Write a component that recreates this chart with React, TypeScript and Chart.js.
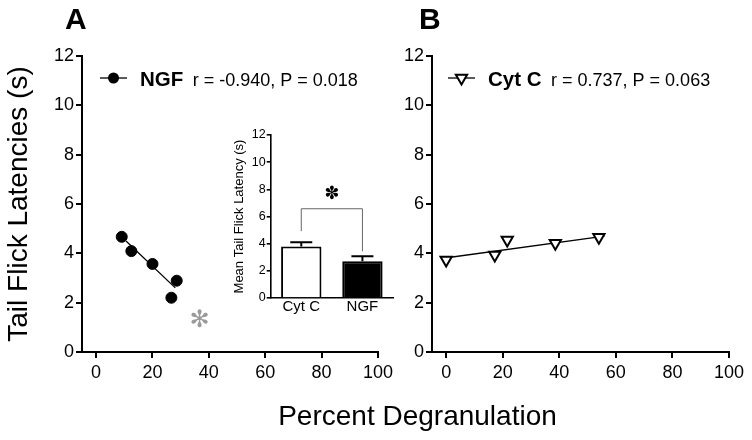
import React, { useEffect, useRef } from "react";
import { Chart, registerables } from "chart.js";

Chart.register(...registerables);

const FONT = "'Liberation Sans', Arial, Helvetica, sans-serif";

// ---- tick labels ----
const xTicks = [0, 20, 40, 60, 80, 100];
const yTicks = [0, 2, 4, 6, 8, 10, 12];
const insetYTicks = [0, 2, 4, 6, 8, 10, 12];

// ---- Panel A: NGF ----
const ngfLabel = "NGF";
const ngfX = [9.1, 12.5, 20.0, 28.6, 26.7];
const ngfY = [4.67, 4.09, 3.57, 2.89, 2.2];
const ngfFitX = [10.6, 28.1];
const ngfFitY = [4.5, 2.6];
const ngfStats = "r = -0.940, P = 0.018";
const sigMarkX = [36.7];
const sigMarkY = [1.28];

// ---- Panel B: Cyt C ----
const cytLabel = "Cyt C";
const cytX = [0, 17.2, 21.6, 38.6, 54.0];
const cytY = [3.73, 3.93, 4.54, 4.41, 4.65];
const cytFitX = [-1, 56];
const cytFitY = [3.8, 4.7];
const cytStats = "r = 0.737, P = 0.063";

// ---- Inset bar chart ----
const insetCats = ["Cyt C", "NGF"];
const insetMeans = [3.8, 2.7];
const insetSem = [0.3, 0.37];
const bracketTop = [6.57];
const bracketLegs = [4.92, 3.44];
const starY = [7.6];

const STAR_HEAVY = "\u273D";
const STAR_LIGHT = "\u273B";

function drawMarker(ctx: CanvasRenderingContext2D, style: string, x: number, y: number, r: number) {
  ctx.save();
  ctx.beginPath();
  if (style === "circle") {
    ctx.arc(x, y, r, 0, Math.PI * 2);
    ctx.fillStyle = "#000";
    ctx.fill();
  } else {
    const s = Math.sin(Math.PI / 3) * r;
    ctx.moveTo(x - s, y - r / 2);
    ctx.lineTo(x + s, y - r / 2);
    ctx.lineTo(x, y + r);
    ctx.closePath();
    ctx.fillStyle = "#fff";
    ctx.fill();
    ctx.lineWidth = 2;
    ctx.strokeStyle = "#000";
    ctx.stroke();
  }
  ctx.restore();
}

function legendPlugin(opts: { dx: number; dy: number; marker: string; r: number; stats: string }) {
  return {
    id: "statLegend",
    afterDatasetsDraw(chart: any) {
      const { ctx, chartArea } = chart;
      const y = chartArea.top + opts.dy;
      const x0 = chartArea.left + opts.dx;
      ctx.save();
      ctx.strokeStyle = "#000";
      ctx.lineWidth = 1.3;
      ctx.beginPath();
      ctx.moveTo(x0, y);
      ctx.lineTo(x0 + 27, y);
      ctx.stroke();
      drawMarker(ctx, opts.marker, x0 + 13.5, y, opts.r);
      ctx.fillStyle = "#000";
      ctx.textAlign = "left";
      ctx.textBaseline = "alphabetic";
      const label = chart.data.datasets[0].label;
      ctx.font = `bold 20.5px ${FONT}`;
      const lx = x0 + 40;
      ctx.fillText(label, lx, y + 7.5);
      const w = ctx.measureText(label).width;
      ctx.font = `18px ${FONT}`;
      ctx.fillText(opts.stats, lx + w + 9.5, y + 7.5);
      ctx.restore();
    },
  };
}

const sigPlugin = {
  id: "sigMark",
  afterDatasetsDraw(chart: any) {
    const { ctx, scales } = chart;
    ctx.save();
    ctx.fillStyle = "#9a9a9a";
    ctx.font = `bold 24px 'DejaVu Sans', sans-serif`;
    ctx.textAlign = "center";
    ctx.textBaseline = "middle";
    sigMarkX.forEach((v, i) => {
      ctx.fillText(STAR_LIGHT, scales.x.getPixelForValue(v), scales.y.getPixelForValue(sigMarkY[i]));
    });
    ctx.restore();
  },
};

const insetPlugin = {
  id: "insetExtras",
  afterDatasetsDraw(chart: any) {
    const { ctx, scales } = chart;
    const xs = scales.x;
    const ys = scales.y;
    ctx.save();
    // error bars (upper only)
    ctx.strokeStyle = "#000";
    ctx.lineWidth = 2;
    insetMeans.forEach((m, i) => {
      const cx = xs.getPixelForValue(i);
      const y0 = ys.getPixelForValue(m);
      const y1 = ys.getPixelForValue(m + insetSem[i]);
      ctx.beginPath();
      ctx.moveTo(cx, y0);
      ctx.lineTo(cx, y1);
      ctx.moveTo(cx - 11, y1);
      ctx.lineTo(cx + 11, y1);
      ctx.stroke();
    });
    // bracket
    const xa = xs.getPixelForValue(0);
    const xb = xs.getPixelForValue(1);
    const yt = ys.getPixelForValue(bracketTop[0]);
    ctx.strokeStyle = "#666";
    ctx.lineWidth = 1;
    ctx.beginPath();
    ctx.moveTo(xa, ys.getPixelForValue(bracketLegs[0]));
    ctx.lineTo(xa, yt);
    ctx.lineTo(xb, yt);
    ctx.lineTo(xb, ys.getPixelForValue(bracketLegs[1]));
    ctx.stroke();
    // star
    ctx.fillStyle = "#000";
    ctx.font = `18px 'DejaVu Sans', sans-serif`;
    ctx.textAlign = "center";
    ctx.textBaseline = "middle";
    ctx.fillText(STAR_HEAVY, (xa + xb) / 2, ys.getPixelForValue(starY[0]));
    ctx.restore();
  },
};

function axisCommon(fontSize: number, tickLen: number, pad: number) {
  return {
    grid: { drawOnChartArea: false, tickLength: tickLen, lineWidth: 2, color: "#000", tickColor: "#000" },
    border: { color: "#000", width: 2 },
    ticks: { color: "#000", font: { size: fontSize, family: FONT }, padding: pad, maxRotation: 0, autoSkip: false },
  };
}

function scatterConfig(opts: {
  label: string;
  xs: number[];
  ys: number[];
  fitX: number[];
  fitY: number[];
  pointStyle: string;
  rotation: number;
  radius: number;
  bg: string;
  borderW: number;
  yAxisWidth: number;
  padRight: number;
  yTitle: string | null;
  plugins: any[];
}) {
  return {
    type: "scatter",
    data: {
      datasets: [
        {
          label: opts.label,
          data: opts.xs.map((x, i) => ({ x, y: opts.ys[i] })),
          pointStyle: opts.pointStyle,
          rotation: opts.rotation,
          pointRadius: opts.radius,
          pointBackgroundColor: opts.bg,
          pointBorderColor: "#000",
          pointBorderWidth: opts.borderW,
          showLine: false,
          order: 0,
        },
        {
          label: "fit",
          data: opts.fitX.map((x, i) => ({ x, y: opts.fitY[i] })),
          showLine: true,
          pointRadius: 0,
          borderColor: "#000",
          borderWidth: 1.3,
          order: 1,
        },
      ],
    },
    options: {
      animation: false,
      responsive: false,
      events: [],
      layout: { padding: { left: 0, top: 56, right: opts.padRight, bottom: 48 } },
      plugins: { legend: { display: false }, tooltip: { enabled: false } },
      scales: {
        x: {
          type: "linear",
          min: -5,
          max: 100,
          afterBuildTicks: (s: any) => {
            s.ticks = xTicks.map((v) => ({ value: v }));
          },
          afterFit: (s: any) => {
            s.height = 40;
          },
          ...axisCommon(18, 6, 4),
        },
        y: {
          type: "linear",
          min: 0,
          max: 12,
          afterBuildTicks: (s: any) => {
            s.ticks = yTicks.map((v) => ({ value: v }));
          },
          afterFit: (s: any) => {
            s.width = opts.yAxisWidth;
          },
          title: opts.yTitle
            ? {
                display: true,
                text: opts.yTitle,
                color: "#000",
                font: { size: 28, family: FONT, lineHeight: 1.2 },
                padding: { top: 2, bottom: 0 },
              }
            : { display: false },
          ...axisCommon(18, 6, 2),
        },
      },
    },
    plugins: opts.plugins,
  };
}

export default function App() {
  const aRef = useRef<HTMLCanvasElement>(null);
  const bRef = useRef<HTMLCanvasElement>(null);
  const iRef = useRef<HTMLCanvasElement>(null);

  useEffect(() => {
    Chart.defaults.font.family = FONT;
    Chart.defaults.color = "#000";

    const chartA = new Chart(
      aRef.current as HTMLCanvasElement,
      scatterConfig({
        label: ngfLabel,
        xs: ngfX,
        ys: ngfY,
        fitX: ngfFitX,
        fitY: ngfFitY,
        pointStyle: "circle",
        rotation: 0,
        radius: 5.5,
        bg: "#000",
        borderW: 1,
        yAxisWidth: 82,
        padRight: 22,
        yTitle: "Tail Flick Latencies (s)",
        plugins: [legendPlugin({ dx: 18, dy: 22, marker: "circle", r: 5.5, stats: ngfStats }), sigPlugin],
      }) as any
    );

    const chartB = new Chart(
      bRef.current as HTMLCanvasElement,
      scatterConfig({
        label: cytLabel,
        xs: cytX,
        ys: cytY,
        fitX: cytFitX,
        fitY: cytFitY,
        pointStyle: "triangle",
        rotation: 180,
        radius: 6.5,
        bg: "#fff",
        borderW: 2,
        yAxisWidth: 32,
        padRight: 23,
        yTitle: null,
        plugins: [legendPlugin({ dx: 16, dy: 22, marker: "triangle", r: 6.5, stats: cytStats })],
      }) as any
    );

    const chartI = new Chart(iRef.current as HTMLCanvasElement, {
      type: "bar",
      data: {
        labels: insetCats,
        datasets: [
          {
            data: insetMeans,
            backgroundColor: ["#fff", "#000"],
            borderColor: "#000",
            borderWidth: 2,
            barPercentage: 0.66,
            categoryPercentage: 1,
          },
        ],
      },
      options: {
        animation: false,
        responsive: false,
        events: [],
        layout: { padding: { left: 0, top: 15, right: 7, bottom: 2 } },
        plugins: { legend: { display: false }, tooltip: { enabled: false } },
        scales: {
          x: {
            afterFit: (s: any) => {
              s.height = 20;
            },
            grid: { display: true, drawOnChartArea: false, drawTicks: false },
            border: { color: "#000", width: 1.6 },
            ticks: { color: "#000", font: { size: 15, family: FONT }, padding: 0, maxRotation: 0, autoSkip: false },
          },
          y: {
            min: 0,
            max: 12,
            afterBuildTicks: (s: any) => {
              s.ticks = insetYTicks.map((v) => ({ value: v }));
            },
            afterFit: (s: any) => {
              s.width = 45.7;
            },
            title: {
              display: true,
              text: "Mean Tail Flick Latency (s)",
              color: "#000",
              font: { size: 13, family: FONT, lineHeight: 1.2 },
              padding: { top: 7, bottom: 0 },
            },
            grid: { drawOnChartArea: false, tickLength: 4, lineWidth: 1.6, color: "#000", tickColor: "#000" },
            border: { color: "#000", width: 1.6 },
            ticks: { color: "#000", font: { size: 12.5, family: FONT }, padding: 1, autoSkip: false },
          },
        },
      },
      plugins: [insetPlugin],
    } as any);

    return () => {
      chartA.destroy();
      chartB.destroy();
      chartI.destroy();
    };
  }, []);

  return (
    <div
      style={{
        position: "absolute",
        left: 0,
        top: 0,
        width: 752,
        height: 440,
        background: "#fff",
        fontFamily: FONT,
        overflow: "hidden",
      }}
    >
      <canvas ref={aRef} width={400} height={440} style={{ position: "absolute", left: 0, top: 0 }} />
      <canvas ref={bRef} width={352} height={440} style={{ position: "absolute", left: 400, top: 0 }} />
      <canvas ref={iRef} width={175} height={200} style={{ position: "absolute", left: 225, top: 120 }} />
      <div style={{ position: "absolute", left: 65, top: 3.6, fontSize: 30, lineHeight: "30px", fontWeight: "bold" }}>A</div>
      <div style={{ position: "absolute", left: 419, top: 3.6, fontSize: 30, lineHeight: "30px", fontWeight: "bold" }}>B</div>
      <div
        style={{
          position: "absolute",
          left: 217.5,
          width: 400,
          top: 402.3,
          fontSize: 28,
          lineHeight: "28px",
          textAlign: "center",
          whiteSpace: "nowrap",
        }}
      >
        Percent Degranulation
      </div>
    </div>
  );
}
